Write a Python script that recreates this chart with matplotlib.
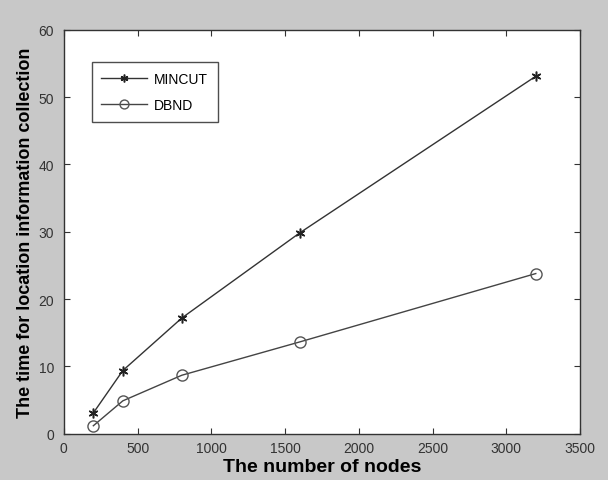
import matplotlib
matplotlib.use("Agg")
import matplotlib.pyplot as plt

nodes = [200, 400, 800, 1600, 3200]
mincut = [3.1, 9.4, 17.2, 29.85, 53.1]
dbnd = [1.2, 4.9, 8.7, 13.65, 23.8]

plt.rcParams["font.family"] = ["Liberation Sans", "DejaVu Sans"]

fig = plt.figure(figsize=(6.08, 4.81), dpi=100, facecolor="#c8c8c8")
ax = fig.add_axes([0.105, 0.096, 0.849, 0.84])
ax.set_facecolor("white")

ax.plot(nodes, mincut, color="#333333", lw=1.0, marker=(6, 2, 0), ms=7,
        mew=1.1, mfc="#222222", mec="#222222", label="MINCUT")
ax.plot(nodes, dbnd, color="#444444", lw=1.0, marker="o", ms=8,
        mfc="none", mec="#555555", label="DBND")

ax.set_xlim(0, 3500)
ax.set_ylim(0, 60)
ax.set_xticks(range(0, 3501, 500))
ax.set_yticks(range(0, 61, 10))
ax.tick_params(direction="in", top=True, right=True, labelsize=10,
               length=4, colors="#333333")
ax.tick_params(axis="x", pad=5)
ax.tick_params(axis="y", pad=7)
for s in ax.spines.values():
    s.set_color("#333333")
    s.set_linewidth(1.0)

ax.set_xlabel("The number of nodes", fontsize=14, fontweight="bold", labelpad=2)
ax.set_ylabel("The time for location information collection", fontsize=13,
              fontweight="bold", labelpad=3)

leg = ax.legend(loc="upper left", bbox_to_anchor=(0.054, 0.92), fontsize=10,
                frameon=True, fancybox=False, edgecolor="#222222",
                borderpad=0.7, handlelength=3.3, handletextpad=0.5,
                labelspacing=0.9, borderaxespad=0, markerscale=0.8)
leg.get_frame().set_linewidth(1.0)

fig.savefig("out.png", dpi=100, facecolor=fig.get_facecolor())
